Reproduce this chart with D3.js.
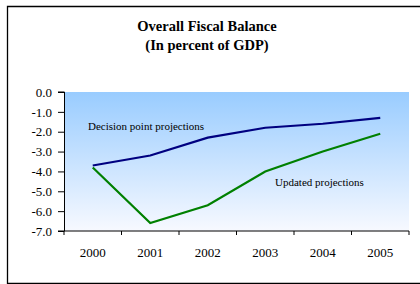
<!DOCTYPE html>
<html>
<head>
<meta charset="utf-8">
<script src="https://cdn.jsdelivr.net/npm/d3@7"></script>
<style>
  body { margin: 0; background: #fff; }
  svg text { font-family: 'Liberation Serif', 'Times New Roman', Times, serif !important; fill: #000; }
</style>
</head>
<body>
<div id="chart"></div>
<script>
// data
const years = ["2000", "2001", "2002", "2003", "2004", "2005"];
const decisionPoint = [-3.7, -3.2, -2.3, -1.8, -1.6, -1.3];
const updated = [-3.8, -6.6, -5.7, -4.0, -3.0, -2.1];
const yTicks = [0, -1, -2, -3, -4, -5, -6, -7];

const width = 420, height = 284;
const margin = { top: 92, right: 11, bottom: 53, left: 64 };
const serif = "'Liberation Serif', 'Times New Roman', serif";

const svg = d3.select("#chart").append("svg")
  .attr("width", width)
  .attr("height", height)
  .attr("font-family", serif);

// frame
svg.append("path")
  .attr("d", "M424,6.5 H7.5 V283.5 H424")
  .attr("fill", "none")
  .attr("stroke", "#000")
  .attr("stroke-width", 1.3);

// title
svg.append("text").attr("x", 207).attr("y", 31)
  .attr("text-anchor", "middle").attr("font-size", 14.5).attr("font-weight", "bold")
  .text("Overall Fiscal Balance");
svg.append("text").attr("x", 207).attr("y", 50)
  .attr("text-anchor", "middle").attr("font-size", 14.5).attr("font-weight", "bold")
  .text("(In percent of GDP)");

const x = d3.scaleBand().domain(years).range([margin.left, width - margin.right]);
const y = d3.scaleLinear().domain([-7, 0]).range([height - margin.bottom, margin.top]);

// gradient background
const grad = svg.append("defs").append("linearGradient")
  .attr("id", "bg").attr("x1", 0).attr("y1", 0).attr("x2", 0).attr("y2", 1);
grad.append("stop").attr("offset", "0%").attr("stop-color", "#99ccff");
grad.append("stop").attr("offset", "100%").attr("stop-color", "#f7f9ff");

svg.append("rect")
  .attr("x", margin.left).attr("y", y(0))
  .attr("width", width - margin.right - margin.left)
  .attr("height", y(-7) - y(0))
  .attr("fill", "url(#bg)");

// axes (hyphen minus like the original)
const fmt = d => d3.format(".1f")(d).replace("\u2212", "-");
const yAxis = svg.append("g")
  .attr("transform", `translate(${margin.left},0)`)
  .call(d3.axisLeft(y).tickValues(yTicks).tickFormat(fmt).tickSize(6).tickPadding(6));
yAxis.attr("font-family", serif).attr("font-size", 13);
yAxis.select(".domain").attr("d", `M-6,${y(0)}H0.5V${y(-7)}H-6`);

const xTickPos = years.map(d => x(d)).concat([x.range()[1]]);
const xAxis = svg.append("g")
  .attr("transform", `translate(0,${y(-7)})`);
xAxis.append("line")
  .attr("x1", margin.left).attr("x2", width - margin.right)
  .attr("stroke", "#000");
xAxis.selectAll(".tk").data(xTickPos).join("line")
  .attr("x1", d => d).attr("x2", d => d)
  .attr("y1", 0).attr("y2", 4)
  .attr("stroke", "#000");
xAxis.selectAll(".lbl").data(years).join("text")
  .attr("x", d => x(d) + x.bandwidth() / 2)
  .attr("y", 26)
  .attr("text-anchor", "middle")
  .attr("font-size", 13)
  .text(d => d);

// lines
const line = d3.line()
  .x((d, i) => x(years[i]) + x.bandwidth() / 2)
  .y(d => y(d));

svg.append("path").datum(decisionPoint)
  .attr("d", line).attr("fill", "none")
  .attr("stroke", "#000080").attr("stroke-width", 2.2);

svg.append("path").datum(updated)
  .attr("d", line).attr("fill", "none")
  .attr("stroke", "#008000").attr("stroke-width", 2.2);

// labels
svg.append("text").attr("x", 88).attr("y", 130)
  .attr("font-size", 11).text("Decision point projections");
svg.append("text").attr("x", 275).attr("y", 186)
  .attr("font-size", 11).text("Updated projections");
</script>
</body>
</html>
